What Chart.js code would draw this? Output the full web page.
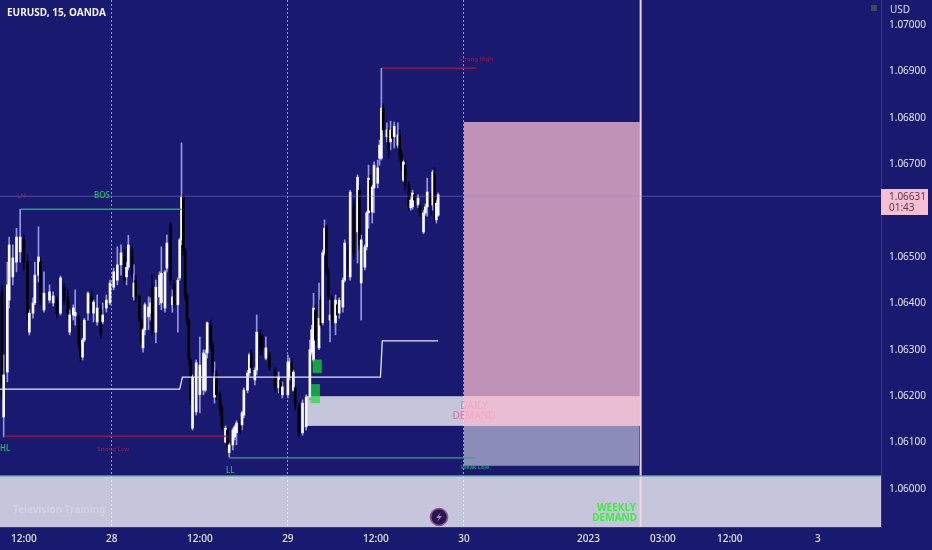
<!DOCTYPE html>
<html>
<head>
<meta charset="utf-8">
<title>EURUSD, 15, OANDA</title>
<script src="https://cdn.jsdelivr.net/npm/chart.js@4"></script>
<style>
  html, body { margin: 0; padding: 0; background: #191970; }
  canvas { display: block; }
</style>
</head>
<body>
<canvas id="chart" width="932" height="550"></canvas>
<script>
// 15 minute candles, x is the bar number counted from the left edge of the picture
const bars = [1,2,4,5,7,9,11,13,15,16,18,19,21,22,24,27,29,31,33,35,37,38,40,41,43,44,45,46,48,50,51,53,55,56,58,60,62,64,66,68,69,70,72,73,74,76,77,78,79,81,82,83,85,87,88,90,91,93,94,95,97,98,99,100,101,102,103,104,105,107,109,111,112,113,115,116,117,118,120,121,123,124,125,127,128,129,131,132,133,135,136,137,139,140,142,143,145,147,150,152,153,154,157,158,159,160,161,163,165,167,169,170,171,172,174,175,176,177,178,179,180,181,183,184,185,187,188,190,191,193,195,196,197,199,200,201,202,203,204,206,207,208,209,211,212,213,214,215,217,218,219,220,221,223,224,225,226,228,229,231,232,233,235,236,237,238,239];
const opens = [1.06425,1.06155,1.06252,1.06407,1.06457,1.06489,1.06511,1.06537,1.06489,1.06338,1.06379,1.06401,1.06461,1.06489,1.06386,1.06407,1.06401,1.06407,1.06379,1.06435,1.06414,1.06338,1.06375,1.06373,1.06371,1.06310,1.06284,1.06321,1.06379,1.06414,1.06379,1.06360,1.06386,1.06360,1.06390,1.06401,1.06435,1.06450,1.06483,1.06500,1.06457,1.06478,1.06515,1.06414,1.06450,1.06414,1.06364,1.06304,1.06343,1.06371,1.06379,1.06435,1.06338,1.06414,1.06401,1.06390,1.06476,1.06569,1.06397,1.06440,1.06397,1.06455,1.06537,1.06629,1.06515,1.06418,1.06364,1.06278,1.06131,1.06166,1.06203,1.06213,1.06213,1.06293,1.06353,1.06310,1.06198,1.06246,1.06203,1.06175,1.06101,1.06127,1.06078,1.06095,1.06112,1.06121,1.06149,1.06138,1.06159,1.06213,1.06250,1.06293,1.06235,1.06256,1.06332,1.06332,1.06282,1.06289,1.06256,1.06218,1.06235,1.06203,1.06203,1.06241,1.06274,1.06213,1.06218,1.06181,1.06121,1.06134,1.06198,1.06295,1.06278,1.06386,1.06304,1.06407,1.06358,1.06509,1.06565,1.06472,1.06364,1.06414,1.06358,1.06397,1.06379,1.06392,1.06450,1.06515,1.06457,1.06612,1.06554,1.06644,1.06444,1.06478,1.06522,1.06595,1.06666,1.06597,1.06649,1.06659,1.06713,1.06713,1.06821,1.06759,1.06774,1.06748,1.06774,1.06759,1.06741,1.06763,1.06720,1.06666,1.06698,1.06655,1.06606,1.06608,1.06634,1.06612,1.06612,1.06554,1.06595,1.06608,1.06634,1.06612,1.06683,1.06580,1.06590];
const highs = [1.06440,1.06289,1.06489,1.06543,1.06526,1.06562,1.06603,1.06547,1.06504,1.06386,1.06412,1.06489,1.06565,1.06498,1.06468,1.06440,1.06425,1.06414,1.06459,1.06444,1.06429,1.06386,1.06397,1.06429,1.06375,1.06321,1.06325,1.06368,1.06425,1.06425,1.06407,1.06418,1.06397,1.06401,1.06418,1.06450,1.06476,1.06522,1.06526,1.06515,1.06489,1.06547,1.06522,1.06483,1.06461,1.06418,1.06368,1.06347,1.06401,1.06414,1.06412,1.06461,1.06450,1.06468,1.06522,1.06472,1.06547,1.06575,1.06429,1.06450,1.06455,1.06541,1.06746,1.06634,1.06519,1.06422,1.06368,1.06282,1.06246,1.06278,1.06328,1.06300,1.06300,1.06360,1.06364,1.06317,1.06274,1.06256,1.06209,1.06181,1.06136,1.06131,1.06099,1.06131,1.06138,1.06147,1.06153,1.06168,1.06218,1.06256,1.06293,1.06300,1.06261,1.06375,1.06343,1.06332,1.06328,1.06295,1.06261,1.06252,1.06239,1.06231,1.06289,1.06282,1.06282,1.06256,1.06224,1.06185,1.06192,1.06203,1.06321,1.06353,1.06422,1.06397,1.06444,1.06416,1.06515,1.06580,1.06569,1.06476,1.06407,1.06418,1.06418,1.06407,1.06412,1.06455,1.06537,1.06526,1.06644,1.06623,1.06677,1.06655,1.06547,1.06526,1.06599,1.06698,1.06677,1.06655,1.06705,1.06709,1.06752,1.06907,1.06830,1.06789,1.06778,1.06793,1.06778,1.06791,1.06789,1.06774,1.06731,1.06709,1.06709,1.06662,1.06629,1.06644,1.06638,1.06634,1.06618,1.06601,1.06614,1.06670,1.06638,1.06687,1.06692,1.06623,1.06638];
const lows = [1.06192,1.06112,1.06231,1.06390,1.06440,1.06468,1.06489,1.06472,1.06364,1.06332,1.06368,1.06397,1.06446,1.06397,1.06381,1.06401,1.06394,1.06368,1.06375,1.06397,1.06368,1.06332,1.06364,1.06353,1.06300,1.06274,1.06278,1.06317,1.06364,1.06375,1.06360,1.06353,1.06325,1.06356,1.06381,1.06397,1.06429,1.06440,1.06461,1.06440,1.06440,1.06472,1.06455,1.06407,1.06403,1.06360,1.06310,1.06295,1.06332,1.06343,1.06364,1.06332,1.06315,1.06397,1.06386,1.06381,1.06468,1.06440,1.06381,1.06390,1.06338,1.06450,1.06526,1.06504,1.06407,1.06353,1.06267,1.06181,1.06127,1.06159,1.06164,1.06203,1.06209,1.06282,1.06300,1.06239,1.06185,1.06192,1.06159,1.06127,1.06099,1.06088,1.06069,1.06084,1.06106,1.06095,1.06119,1.06127,1.06153,1.06207,1.06244,1.06256,1.06224,1.06246,1.06289,1.06289,1.06278,1.06256,1.06209,1.06207,1.06203,1.06196,1.06196,1.06235,1.06224,1.06211,1.06170,1.06114,1.06116,1.06127,1.06192,1.06289,1.06274,1.06310,1.06300,1.06347,1.06353,1.06504,1.06461,1.06407,1.06317,1.06353,1.06332,1.06368,1.06368,1.06381,1.06446,1.06461,1.06450,1.06498,1.06487,1.06515,1.06364,1.06472,1.06515,1.06562,1.06590,1.06573,1.06595,1.06649,1.06698,1.06709,1.06763,1.06748,1.06713,1.06731,1.06748,1.06735,1.06735,1.06709,1.06687,1.06662,1.06644,1.06601,1.06601,1.06603,1.06612,1.06606,1.06588,1.06550,1.06590,1.06588,1.06590,1.06601,1.06573,1.06573,1.06588];
const closes = [1.06203,1.06246,1.06440,1.06526,1.06498,1.06543,1.06543,1.06489,1.06379,1.06379,1.06401,1.06461,1.06500,1.06407,1.06422,1.06425,1.06416,1.06379,1.06455,1.06407,1.06379,1.06375,1.06390,1.06381,1.06310,1.06282,1.06321,1.06364,1.06422,1.06386,1.06403,1.06390,1.06336,1.06375,1.06407,1.06444,1.06468,1.06483,1.06509,1.06450,1.06478,1.06526,1.06465,1.06444,1.06414,1.06364,1.06321,1.06343,1.06397,1.06392,1.06401,1.06343,1.06435,1.06461,1.06465,1.06468,1.06530,1.06450,1.06414,1.06397,1.06450,1.06537,1.06629,1.06515,1.06418,1.06364,1.06278,1.06192,1.06241,1.06272,1.06267,1.06293,1.06289,1.06358,1.06310,1.06252,1.06239,1.06203,1.06170,1.06134,1.06131,1.06095,1.06095,1.06127,1.06134,1.06142,1.06127,1.06164,1.06213,1.06250,1.06289,1.06261,1.06256,1.06338,1.06300,1.06300,1.06304,1.06263,1.06220,1.06241,1.06209,1.06220,1.06274,1.06274,1.06239,1.06252,1.06181,1.06121,1.06185,1.06198,1.06300,1.06343,1.06390,1.06321,1.06368,1.06353,1.06509,1.06562,1.06472,1.06414,1.06375,1.06364,1.06407,1.06375,1.06407,1.06450,1.06530,1.06472,1.06640,1.06509,1.06672,1.06526,1.06537,1.06522,1.06595,1.06670,1.06601,1.06651,1.06698,1.06692,1.06741,1.06821,1.06774,1.06774,1.06731,1.06774,1.06756,1.06782,1.06763,1.06720,1.06698,1.06705,1.06655,1.06608,1.06623,1.06638,1.06623,1.06627,1.06595,1.06595,1.06608,1.06640,1.06612,1.06683,1.06612,1.06616,1.06634];

const stepBars = [0,98,99.5,207.5,208.5,239];
const stepPrices = [1.06215,1.06215,1.06241,1.06241,1.06319,1.06319];

const priceBars = [0,480.5];
const lastPrice = [1.06631,1.06631];
const bosBars = [11.5,99];
const bosLine = [1.06603,1.06603];
const highBars = [208.5,260];
const highLine = [1.06907,1.06907];
const lowBars = [2,124.5];
const lowLine = [1.06114,1.06114];
const weakBars = [125,259];
const weakLine = [1.06067,1.06067];
const weeklyBars = [0,480.5];
const weeklyLine = [1.06028,1.06028];

const priceTicks = [1.06,1.061,1.062,1.063,1.064,1.065,1.067,1.068,1.069,1.07];
const timeTicks = [13,61,109,157,205,253,321,361.5,398,446];
const timeLabels = ['12:00','28','12:00','29','12:00','30','2023','03:00','12:00','3'];
const dashedTicks = [61,157,253];

const PINK = 'rgba(248,187,208,0.75)';
const WHITE = 'rgba(255,255,255,0.75)';
const BLUE = 'rgba(255,255,255,0.5)';
const RED = '#a01a44';
const GREEN = '#1fc25e';

// x0, x1 in bars, y0, y1 in price
const dailyZone = [166.5,349,1.06200,1.06136];
const pinkBox = [253,349,1.06791,1.06136];
const blueBox = [253,348.5,1.06136,1.06050];
const weeklyZone = [0,480.5,1.06028,1.05918];
const greenBoxA = [170.5,175.5,1.06279,1.06250];
const greenBoxB = [169.5,174.5,1.06226,1.06185];
const nowBar = 349.4;

const wickColors = bars.map((b, i) => closes[i] >= opens[i] ? '#9396e6' : '#05053a');
const bodyColors = bars.map((b, i) => closes[i] >= opens[i] ? '#f8f8fd' : '#000000');

function flatLine(xs, ys, color, width) {
    return {
        type: 'line',
        data: xs.map((x, i) => ({ x: x, y: ys[i] })),
        borderColor: color,
        borderWidth: width,
        pointRadius: 0,
        tension: 0
    };
}

function rect(ctx, chart, z, color) {
    const sx = chart.scales.x, sy = chart.scales.y;
    const x0 = sx.getPixelForValue(z[0]), x1 = sx.getPixelForValue(z[1]);
    const y0 = sy.getPixelForValue(z[2]), y1 = sy.getPixelForValue(z[3]);
    ctx.fillStyle = color;
    ctx.fillRect(x0, y0, x1 - x0, y1 - y0);
}

function label(ctx, text, x, y, color, font, align) {
    ctx.fillStyle = color;
    ctx.font = font;
    ctx.textAlign = align || 'left';
    ctx.textBaseline = 'middle';
    ctx.fillText(text, x, y);
}

// zones go under the candles, the daily text is covered by the pink box
const zonesPlugin = {
    id: 'zones',
    beforeDatasetsDraw(chart) {
        const ctx = chart.ctx;
        const a = chart.chartArea;
        ctx.save();
        rect(ctx, chart, dailyZone, WHITE);
        label(ctx, 'DAILY', 474, 406, '#ee6f9c', '10px "Noto Sans"', 'center');
        label(ctx, 'DEMAND', 474, 416, '#ee6f9c', '10px "Noto Sans"', 'center');
        rect(ctx, chart, pinkBox, PINK);
        rect(ctx, chart, blueBox, BLUE);
        rect(ctx, chart, weeklyZone, WHITE);
        const nx = chart.scales.x.getPixelForValue(nowBar);
        ctx.fillStyle = 'rgba(252,214,228,0.95)';
        ctx.fillRect(nx - 1, a.top, 2, a.bottom - a.top);
        ctx.restore();
    },
    afterDatasetsDraw(chart) {
        const ctx = chart.ctx;
        ctx.save();
        rect(ctx, chart, greenBoxA, 'rgba(24,225,50,0.68)');
        rect(ctx, chart, greenBoxB, 'rgba(24,225,50,0.68)');

        label(ctx, 'EURUSD, 15, OANDA', 7, 13, '#f2f2fa', 'bold 10px "Noto Sans"');
        label(ctx, 'USD', 890, 10, '#dcdcf2', '10px "Noto Sans"');
        label(ctx, 'BOS', 94, 196, GREEN, '500 8px "Noto Sans"');
        label(ctx, 'LH', 17, 196, RED, '500 7px "Noto Sans"');
        label(ctx, 'HL', 0, 449, GREEN, '500 8px "Noto Sans"');
        label(ctx, 'LL', 226, 471, GREEN, '500 8px "Noto Sans"');
        label(ctx, 'Strong Low', 113, 449, RED, '6px "Noto Sans"', 'center');
        label(ctx, 'Strong High', 476, 59, RED, '6px "Noto Sans"', 'center');
        label(ctx, 'Weak Low', 475, 467, GREEN, '6px "Noto Sans"', 'center');
        label(ctx, 'WEEKLY', 636, 508, '#3cf03c', 'bold 10px "Noto Sans"', 'right');
        label(ctx, 'DEMAND', 637, 518, '#3cf03c', 'bold 10px "Noto Sans"', 'right');
        label(ctx, 'Television Training', 13, 510, 'rgba(255,255,255,0.22)', 'bold 10px "Noto Sans"');

        // small status square, top right
        ctx.fillStyle = '#3b4a52';
        ctx.fillRect(871, 5, 6, 6);

        // last price tag
        ctx.fillStyle = '#f8bfd2';
        ctx.fillRect(881, 189, 47, 26);
        label(ctx, '1.06631', 889, 197, '#5d3a4c', '10px "Noto Sans"');
        label(ctx, '01:43', 889, 208, '#5d3a4c', '10px "Noto Sans"');

        // lightning badge
        ctx.beginPath();
        ctx.arc(439, 517, 8.5, 0, Math.PI * 2);
        ctx.fillStyle = '#231a4c';
        ctx.fill();
        ctx.lineWidth = 1.6;
        ctx.strokeStyle = '#9c4f9e';
        ctx.stroke();
        ctx.beginPath();
        ctx.moveTo(441, 512);
        ctx.lineTo(436, 518);
        ctx.lineTo(439, 518);
        ctx.lineTo(437, 522);
        ctx.lineTo(442, 516);
        ctx.lineTo(439, 516);
        ctx.closePath();
        ctx.fillStyle = '#c46cc6';
        ctx.fill();
        ctx.restore();
    }
};

new Chart(document.getElementById('chart'), {
    type: 'bar',
    data: {
        datasets: [
            flatLine(priceBars, lastPrice, 'rgba(140,142,214,0.45)', 1),
            flatLine(weeklyBars, weeklyLine, '#4aa690', 1.2),
            flatLine(bosBars, bosLine, '#1fa566', 1.4),
            flatLine(highBars, highLine, RED, 1.2),
            flatLine(lowBars, lowLine, RED, 1.2),
            flatLine(weakBars, weakLine, '#3f9f80', 1.2),
            flatLine(stepBars, stepPrices, '#e4e5f8', 1.3),
            // the first dataset is painted last, so bodies come before wicks
            {
                data: bars.map((b, i) => ({ x: b, y: [opens[i], closes[i]] })),
                backgroundColor: bodyColors,
                barThickness: 2,
                grouped: false,
                borderWidth: 0
            },
            {
                data: bars.map((b, i) => ({ x: b, y: [lows[i], highs[i]] })),
                backgroundColor: wickColors,
                barThickness: 1,
                grouped: false,
                borderWidth: 0
            }
        ]
    },
    options: {
        responsive: false,
        animation: false,
        layout: { padding: 0 },
        plugins: { legend: { display: false }, tooltip: { enabled: false } },
        scales: {
            x: {
                type: 'linear',
                min: 0,
                max: 480.5,
                offset: false,
                afterBuildTicks(scale) { scale.ticks = timeTicks.map(v => ({ value: v })); },
                afterFit(scale) {
                    scale.height = 23;
                    scale.paddingLeft = 0;
                    scale.paddingRight = 0;
                },
                grid: {
                    offset: false,
                    drawTicks: false,
                    lineWidth: 1,
                    color: ctx => ctx.tick && dashedTicks.includes(ctx.tick.value) ? '#8c90d8' : 'rgba(0,0,0,0)'
                },
                border: { color: '#34368a', dash: [2, 2] },
                ticks: {
                    autoSkip: false,
                    maxRotation: 0,
                    padding: 6,
                    color: '#e6e6f6',
                    font: { family: '"Noto Sans"', size: 10, weight: '500' },
                    callback: v => timeLabels[timeTicks.indexOf(v)]
                }
            },
            y: {
                position: 'right',
                min: 1.05918,
                max: 1.07054,
                afterBuildTicks(scale) { scale.ticks = priceTicks.map(v => ({ value: v })); },
                afterFit(scale) {
                    scale.width = 51;
                    scale.paddingTop = 0;
                    scale.paddingBottom = 0;
                },
                grid: { display: false, drawTicks: false },
                border: { color: '#34368a' },
                ticks: {
                    padding: 8,
                    color: '#e6e6f6',
                    font: { family: '"Noto Sans"', size: 10 },
                    callback: v => v.toFixed(5)
                }
            }
        }
    },
    plugins: [zonesPlugin]
});
</script>
</body>
</html>
